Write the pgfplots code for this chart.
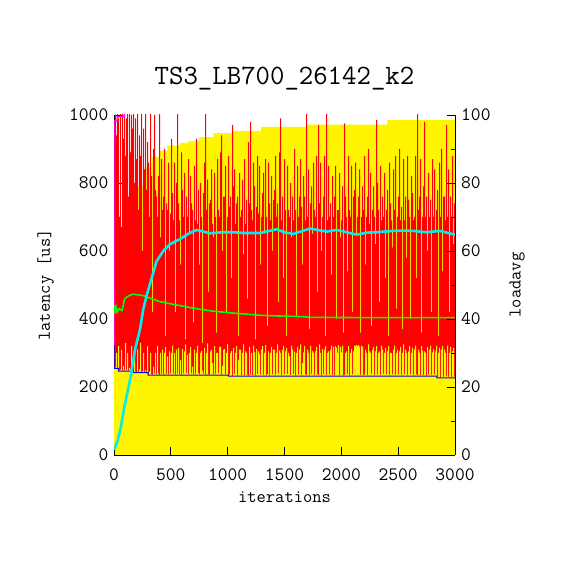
\documentclass[border=0pt]{standalone}
\usepackage{pgfplots}
\pgfplotsset{compat=1.18}
\usepackage{pgfplotstable}
\usepackage{fontspec}
\definecolor{yel}{RGB}{255,245,0}
\definecolor{rd}{RGB}{255,0,0}
\definecolor{gr}{RGB}{0,255,0}
\definecolor{cy}{RGB}{0,238,238}
\definecolor{bl}{RGB}{0,0,255}
\definecolor{mg}{RGB}{255,0,255}

% per-column (1 px = 8.8 iterations) min / max of the latency series
\pgfplotstableread[row sep=\\]{L H\\
255 985\\ 258 1000\\ 300 940\\ 256 1020\\ 320 990\\ 249 700\\ 251 1020\\ 310 670\\ 248 1010\\ 262 930\\
249 1020\\ 330 880\\ 250 990\\ 300 1020\\ 248 760\\ 256 1020\\ 249 890\\ 320 1000\\ 250 960\\ 247 1020\\
300 800\\ 245 990\\ 243 870\\ 310 1020\\ 244 720\\ 252 940\\ 330 880\\ 243 1020\\ 246 600\\ 300 960\\
244 840\\ 250 1020\\ 243 780\\ 320 920\\ 237 860\\ 245 700\\ 300 1020\\ 238 820\\ 236 420\\ 260 900\\
240 1000\\ 300 780\\ 238 760\\ 320 700\\ 240 820\\ 236 1010\\ 300 640\\ 239 870\\ 310 720\\ 237 760\\
300 900\\ 318 350\\ 238 740\\ 290 720\\ 237 860\\ 305 600\\ 240 710\\ 300 930\\ 322 770\\ 239 690\\
300 860\\ 237 420\\ 310 800\\ 240 1010\\ 315 740\\ 238 690\\ 280 560\\ 236 890\\ 312 780\\ 240 700\\
305 830\\ 325 340\\ 241 760\\ 295 700\\ 237 870\\ 300 650\\ 318 820\\ 240 740\\ 260 720\\ 238 390\\
310 850\\ 239 690\\ 300 930\\ 322 680\\ 241 780\\ 238 560\\ 300 800\\ 306 700\\ 248 330\\ 239 770\\
315 860\\ 237 1010\\ 300 720\\ 328 810\\ 238 480\\ 236 740\\ 305 750\\ 310 840\\ 270 680\\ 237 640\\
320 830\\ 239 700\\ 300 360\\ 300 870\\ 241 720\\ 318 700\\ 318 890\\ 237 940\\ 262 600\\ 310 760\\
312 760\\ 238 850\\ 300 420\\ 325 700\\ 234 880\\ 237 730\\ 300 760\\ 306 520\\ 233 970\\ 315 790\\
238 840\\ 300 680\\ 320 740\\ 234 760\\ 280 350\\ 310 830\\ 310 700\\ 235 720\\ 300 810\\ 325 590\\
234 870\\ 305 680\\ 300 750\\ 236 460\\ 233 920\\ 318 740\\ 237 980\\ 300 720\\ 235 690\\ 322 860\\
302 790\\ 234 340\\ 312 730\\ 238 880\\ 305 710\\ 296 850\\ 237 560\\ 310 700\\ 320 770\\ 236 830\\
300 650\\ 323 870\\ 235 700\\ 238 380\\ 305 860\\ 234 740\\ 300 690\\ 318 820\\ 237 600\\ 310 750\\
310 780\\ 236 880\\ 300 700\\ 325 740\\ 239 450\\ 308 890\\ 300 990\\ 236 690\\ 310 760\\ 320 520\\
237 870\\ 305 720\\ 315 350\\ 238 850\\ 300 720\\ 290 700\\ 236 800\\ 322 640\\ 310 760\\ 238 690\\
304 900\\ 234 720\\ 300 410\\ 318 850\\ 237 700\\ 310 760\\ 325 870\\ 236 730\\ 270 560\\ 302 820\\
320 760\\ 237 690\\ 235 1010\\ 310 700\\ 300 840\\ 234 370\\ 322 740\\ 238 790\\ 306 650\\ 300 860\\
236 720\\ 305 700\\ 318 880\\ 237 480\\ 235 970\\ 325 740\\ 300 860\\ 234 600\\ 312 700\\ 238 760\\
310 880\\ 320 350\\ 236 1010\\ 300 690\\ 305 850\\ 237 700\\ 310 740\\ 322 530\\ 236 820\\ 318 700\\
234 760\\ 320 850\\ 316 400\\ 300 720\\ 323 720\\ 235 830\\ 318 640\\ 302 690\\ 321 790\\ 234 360\\
236 975\\ 300 760\\ 305 700\\ 238 540\\ 320 880\\ 234 720\\ 300 700\\ 312 850\\ 237 420\\ 305 760\\
322 780\\ 321 860\\ 324 650\\ 320 700\\ 323 760\\ 319 840\\ 236 360\\ 322 700\\ 318 790\\ 235 720\\
237 880\\ 310 560\\ 300 700\\ 236 760\\ 325 900\\ 305 680\\ 300 830\\ 238 380\\ 310 720\\ 318 790\\
236 700\\ 305 620\\ 320 985\\ 237 800\\ 300 720\\ 305 450\\ 236 850\\ 322 690\\ 310 760\\ 238 700\\
300 830\\ 315 520\\ 237 720\\ 305 780\\ 320 350\\ 236 860\\ 300 740\\ 300 690\\ 237 610\\ 310 840\\
322 720\\ 236 880\\ 300 430\\ 310 700\\ 237 760\\ 305 900\\ 318 690\\ 236 730\\ 300 370\\ 325 870\\
237 690\\ 310 760\\ 300 580\\ 236 880\\ 305 750\\ 320 700\\ 238 400\\ 300 820\\ 316 770\\ 236 690\\
310 700\\ 322 880\\ 237 520\\ 235 1010\\ 310 720\\ 300 760\\ 234 870\\ 320 360\\ 306 700\\ 235 790\\
305 980\\ 300 700\\ 234 760\\ 318 600\\ 237 830\\ 310 700\\ 322 750\\ 236 420\\ 302 870\\ 312 700\\
237 840\\ 305 660\\ 321 720\\ 230 780\\ 300 350\\ 316 860\\ 229 700\\ 310 900\\ 320 540\\ 230 760\\
310 760\\ 300 690\\ 231 970\\ 322 700\\ 230 840\\ 300 420\\ 318 760\\ 229 700\\ 305 880\\ 315 620\\
230 740\\ 230 740\\
}\redtab

\begin{document}
\begin{tikzpicture}[x=1pt,y=1pt]
\path[use as bounding box] (0,0) rectangle (570,570);
\pgfplotsset{
  common/.style={
    at={(114pt,115pt)}, anchor=south west,
    scale only axis, width=341pt, height=340pt,
    xmin=0, xmax=3000,
    tick align=inside,
    major tick length=8pt, minor tick length=4pt,
    tick style={black, line width=0.8pt},
    axis line style={black, line width=0.8pt},
    tick label style={font=\ttfamily\fontsize{19}{21}\selectfont, inner sep=1pt},
    label style={font=\ttfamily\fontsize{18}{20}\selectfont},
    /pgf/number format/assume math mode=true,
    /pgf/number format/1000 sep={},
  }
}
\begin{axis}[common,
  ymin=0, ymax=1000,
  axis x line=none, axis y line*=left,
  tick align=inside,
  ytick={0,200,...,1000}, minor y tick num=1,
  yticklabel style={xshift=-4.5pt},
  ylabel={latency [us]},
  ylabel style={at={(axis description cs:-0.2,0.5)}, anchor=center},
  title={TS3\_LB700\_26142\_k2},
  title style={at={(axis description cs:0.5,1.09)}, anchor=center, font=\ttfamily\fontsize{28}{30}\selectfont},
]
% yellow envelope
\addplot[draw=none, fill=yel, const plot] coordinates {
 (0,620) (100,700) (190,790) (270,845) (330,877) (400,895) (470,910) (580,918)
 (654,924) (748,935) (874,947) (1050,953) (1294,965) (1690,972) (2405,985) (3000,985)
} \closedcycle;
% latency per column: max then min
\addplot[draw=none, fill=rd, const plot] table[x expr=\coordindex*8.8, y=H]{\redtab} \closedcycle;
\addplot[draw=none, fill=yel, const plot] table[x expr=\coordindex*8.8, y=L]{\redtab} \closedcycle;
% running minimum
\addplot[bl, line width=1pt] coordinates {
 (0,323) (1,255) (40,255) (40,247) (170,247) (170,242) (300,242) (300,235)
 (1006,235) (1006,232) (2840,232) (2840,227) (3000,227)
};
% running maximum
\addplot[mg, line width=1.3pt] coordinates {
 (0,323) (0.5,982) (29,982) (29,995) (91,995) (91,1100)
};
% running average
\addplot[gr, line width=1.6pt] coordinates {
 (0,425) (5,440) (10,415) (18,436) (30,421) (45,430) (70,425) (79,436) (90,455)
 (97,461) (130,468) (167,473) (255,469) (343,458) (405,451) (552,441) (695,432)
 (845,424) (992,419) (1135,415) (1285,411) (1432,409) (1650,407) (1725,405)
 (2200,404) (3000,404)
};
\end{axis}
\begin{axis}[common,
  ymin=0, ymax=100,
  axis x line*=bottom, axis y line*=right,
  tick align=inside,
  xtick={0,500,...,3000},
  xticklabel style={yshift=-12pt},
  yticklabel style={xshift=5pt},
  ytick={0,20,...,100}, minor y tick num=1,
  xlabel={iterations},
  xlabel style={at={(axis description cs:0.5,-0.123)}, anchor=center},
  ylabel={loadavg},
  ylabel style={at={(axis description cs:1.182,0.5)}, anchor=center},
]
\addplot[cy, line width=2.6pt] coordinates {
 (0,1.5) (30,4) (60,8) (90,14) (141,22) (185,31) (229,37) (258,43) (288,47)
 (331,52) (375,57) (434,60) (493,62) (581,63.5) (650,65) (727,66.2) (845,65.2)
 (950,65.5) (1050,65.5) (1150,65.3) (1285,65.3) (1380,66) (1431,66.4) (1500,65.5)
 (1577,65) (1650,65.8) (1725,66.6) (1871,65.7) (1959,66.2) (2050,65.5) (2135,64.8)
 (2223,65.4) (2300,65.5) (2458,65.9) (2550,66) (2634,65.9) (2751,65.5) (2869,65.9)
 (2950,65.2) (3000,64.8)
};
\end{axis}
\end{tikzpicture}
\end{document}
